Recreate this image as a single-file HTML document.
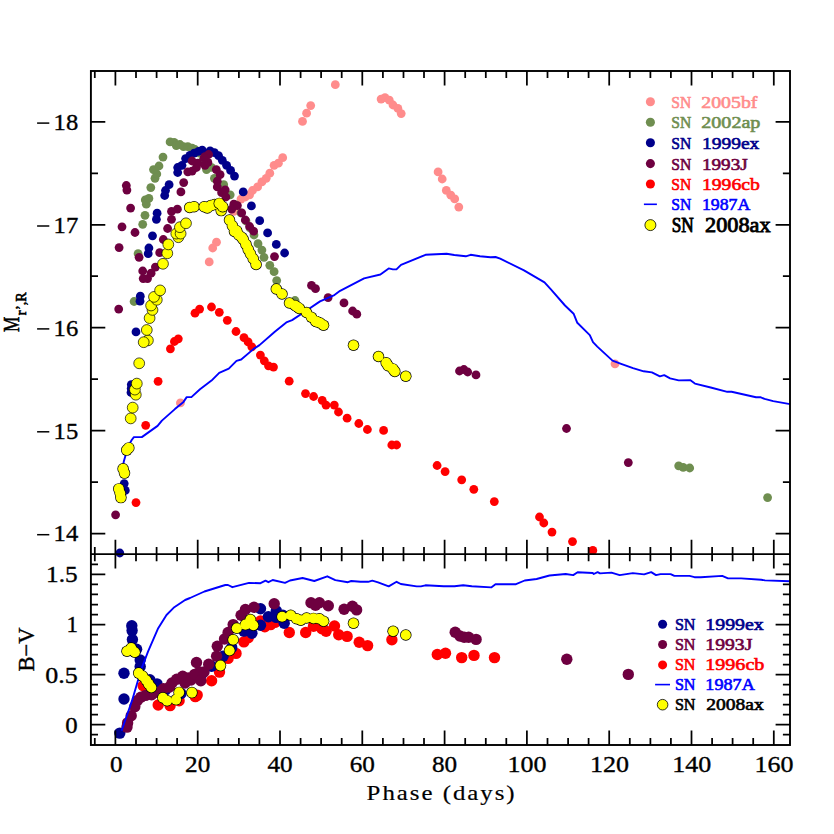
<!DOCTYPE html>
<html><head><meta charset="utf-8"><title>SN 2008ax light curves</title>
<style>html,body{margin:0;padding:0;background:#fff;overflow:hidden}svg{display:block}text{font-family:"Liberation Serif",serif}</style>
</head><body>
<svg width="834" height="834" viewBox="0 0 834 834">
<rect width="834" height="834" fill="#fff"/>
<g fill="#FF8C8C"><circle cx="180.4" cy="402.9" r="4.4"/><circle cx="209.2" cy="261.9" r="4.4"/><circle cx="212.7" cy="248.0" r="4.4"/><circle cx="216.5" cy="242.2" r="4.4"/><circle cx="233.8" cy="211.4" r="4.4"/><circle cx="241.0" cy="199.1" r="4.4"/><circle cx="245.3" cy="197.0" r="4.4"/><circle cx="249.6" cy="194.8" r="4.4"/><circle cx="252.5" cy="190.5" r="4.4"/><circle cx="257.6" cy="186.9" r="4.4"/><circle cx="261.9" cy="181.9" r="4.4"/><circle cx="266.2" cy="178.3" r="4.4"/><circle cx="269.8" cy="173.2" r="4.4"/><circle cx="274.1" cy="165.3" r="4.4"/><circle cx="278.4" cy="163.2" r="4.4"/><circle cx="282.7" cy="157.7" r="4.4"/><circle cx="302.5" cy="121.4" r="4.4"/><circle cx="306.6" cy="113.2" r="4.4"/><circle cx="310.7" cy="105.6" r="4.4"/><circle cx="335.3" cy="84.7" r="4.4"/><circle cx="381.1" cy="99.1" r="4.4"/><circle cx="385.0" cy="97.6" r="4.4"/><circle cx="389.3" cy="100.2" r="4.4"/><circle cx="393.0" cy="105.0" r="4.4"/><circle cx="397.9" cy="108.4" r="4.4"/><circle cx="401.2" cy="113.6" r="4.4"/><circle cx="438.1" cy="171.9" r="4.4"/><circle cx="442.2" cy="179.0" r="4.4"/><circle cx="446.3" cy="190.4" r="4.4"/><circle cx="450.8" cy="195.2" r="4.4"/><circle cx="454.7" cy="198.9" r="4.4"/><circle cx="458.8" cy="207.1" r="4.4"/><circle cx="615.0" cy="363.8" r="4.4"/></g>
<g fill="#6F8E50"><circle cx="134.1" cy="301.5" r="4.4"/><circle cx="138.1" cy="253.7" r="4.4"/><circle cx="142.7" cy="224.3" r="4.4"/><circle cx="145.0" cy="215.3" r="4.4"/><circle cx="146.3" cy="204.2" r="4.4"/><circle cx="145.3" cy="199.9" r="4.4"/><circle cx="148.9" cy="198.4" r="4.4"/><circle cx="150.8" cy="187.6" r="4.4"/><circle cx="155.0" cy="178.3" r="4.4"/><circle cx="156.8" cy="174.0" r="4.4"/><circle cx="153.5" cy="169.6" r="4.4"/><circle cx="159.0" cy="166.0" r="4.4"/><circle cx="163.0" cy="157.1" r="4.4"/><circle cx="170.1" cy="141.9" r="4.4"/><circle cx="174.1" cy="142.3" r="4.4"/><circle cx="176.3" cy="145.6" r="4.4"/><circle cx="179.9" cy="144.5" r="4.4"/><circle cx="183.5" cy="146.6" r="4.4"/><circle cx="187.8" cy="146.6" r="4.4"/><circle cx="192.1" cy="148.1" r="4.4"/><circle cx="195.0" cy="149.5" r="4.4"/><circle cx="199.0" cy="153.0" r="4.4"/><circle cx="203.0" cy="160.0" r="4.4"/><circle cx="206.5" cy="169.6" r="4.4"/><circle cx="211.3" cy="167.3" r="4.4"/><circle cx="214.4" cy="178.3" r="4.4"/><circle cx="223.7" cy="184.7" r="4.4"/><circle cx="230.2" cy="194.8" r="4.4"/><circle cx="236.0" cy="205.0" r="4.4"/><circle cx="241.0" cy="213.0" r="4.4"/><circle cx="246.0" cy="221.0" r="4.4"/><circle cx="250.0" cy="228.0" r="4.4"/><circle cx="254.0" cy="235.0" r="4.4"/><circle cx="258.0" cy="243.7" r="4.4"/><circle cx="261.9" cy="250.1" r="4.4"/><circle cx="264.0" cy="257.3" r="4.4"/><circle cx="269.8" cy="265.3" r="4.4"/><circle cx="274.1" cy="271.7" r="4.4"/><circle cx="276.7" cy="280.6" r="4.4"/><circle cx="295.0" cy="300.5" r="4.4"/><circle cx="678.7" cy="465.8" r="4.4"/><circle cx="683.2" cy="467.3" r="4.4"/><circle cx="689.7" cy="468.0" r="4.4"/><circle cx="767.6" cy="497.6" r="4.4"/></g>
<g fill="#00008B"><circle cx="119.8" cy="553.0" r="4.4"/><circle cx="124.2" cy="483.6" r="4.4"/><circle cx="125.3" cy="490.4" r="4.4"/><circle cx="131.3" cy="384.6" r="4.4"/><circle cx="131.2" cy="388.5" r="4.4"/><circle cx="131.0" cy="392.5" r="4.4"/><circle cx="136.0" cy="331.9" r="4.4"/><circle cx="140.3" cy="296.2" r="4.4"/><circle cx="140.0" cy="301.2" r="4.4"/><circle cx="148.9" cy="248.0" r="4.4"/><circle cx="148.2" cy="253.7" r="4.4"/><circle cx="152.5" cy="235.8" r="4.4"/><circle cx="156.4" cy="219.3" r="4.4"/><circle cx="157.1" cy="213.2" r="4.4"/><circle cx="164.7" cy="195.5" r="4.4"/><circle cx="165.5" cy="190.5" r="4.4"/><circle cx="169.1" cy="184.7" r="4.4"/><circle cx="177.7" cy="172.5" r="4.4"/><circle cx="177.7" cy="167.5" r="4.4"/><circle cx="182.0" cy="165.3" r="4.4"/><circle cx="185.6" cy="158.6" r="4.4"/><circle cx="189.9" cy="155.3" r="4.4"/><circle cx="194.2" cy="153.1" r="4.4"/><circle cx="198.6" cy="151.4" r="4.4"/><circle cx="202.2" cy="150.2" r="4.4"/><circle cx="210.1" cy="150.9" r="4.4"/><circle cx="214.4" cy="152.6" r="4.4"/><circle cx="218.5" cy="155.6" r="4.4"/><circle cx="222.3" cy="160.3" r="4.4"/><circle cx="226.6" cy="165.3" r="4.4"/><circle cx="230.6" cy="170.4" r="4.4"/><circle cx="234.5" cy="176.1" r="4.4"/><circle cx="243.2" cy="191.9" r="4.4"/><circle cx="251.4" cy="205.9" r="4.4"/><circle cx="259.7" cy="220.7" r="4.4"/><circle cx="267.6" cy="232.9" r="4.4"/><circle cx="276.3" cy="244.4" r="4.4"/><circle cx="284.6" cy="253.0" r="4.4"/></g>
<g fill="#6E0040"><circle cx="115.6" cy="514.8" r="4.4"/><circle cx="118.7" cy="309.1" r="4.4"/><circle cx="119.1" cy="247.6" r="4.4"/><circle cx="122.0" cy="226.8" r="4.4"/><circle cx="126.3" cy="185.5" r="4.4"/><circle cx="126.9" cy="190.1" r="4.4"/><circle cx="130.6" cy="208.1" r="4.4"/><circle cx="135.0" cy="232.5" r="4.4"/><circle cx="139.1" cy="257.3" r="4.4"/><circle cx="142.7" cy="271.0" r="4.4"/><circle cx="143.2" cy="278.6" r="4.4"/><circle cx="147.5" cy="278.6" r="4.4"/><circle cx="151.1" cy="273.2" r="4.4"/><circle cx="155.4" cy="267.1" r="4.4"/><circle cx="159.7" cy="252.7" r="4.4"/><circle cx="163.3" cy="239.5" r="4.4"/><circle cx="167.6" cy="228.5" r="4.4"/><circle cx="171.5" cy="219.3" r="4.4"/><circle cx="171.5" cy="211.4" r="4.4"/><circle cx="177.4" cy="209.2" r="4.4"/><circle cx="180.9" cy="191.9" r="4.4"/><circle cx="183.7" cy="182.6" r="4.4"/><circle cx="187.8" cy="171.8" r="4.4"/><circle cx="192.1" cy="171.1" r="4.4"/><circle cx="196.4" cy="167.5" r="4.4"/><circle cx="197.8" cy="163.2" r="4.4"/><circle cx="192.1" cy="161.0" r="4.4"/><circle cx="205.0" cy="156.7" r="4.4"/><circle cx="208.6" cy="154.5" r="4.4"/><circle cx="207.9" cy="162.4" r="4.4"/><circle cx="205.0" cy="165.3" r="4.4"/><circle cx="204.0" cy="158.0" r="4.4"/><circle cx="216.3" cy="169.6" r="4.4"/><circle cx="220.1" cy="174.7" r="4.4"/><circle cx="217.3" cy="181.2" r="4.4"/><circle cx="217.3" cy="186.9" r="4.4"/><circle cx="221.6" cy="192.7" r="4.4"/><circle cx="225.2" cy="189.8" r="4.4"/><circle cx="225.9" cy="197.0" r="4.4"/><circle cx="233.8" cy="204.2" r="4.4"/><circle cx="237.4" cy="205.6" r="4.4"/><circle cx="231.7" cy="209.2" r="4.4"/><circle cx="241.7" cy="212.8" r="4.4"/><circle cx="245.3" cy="220.0" r="4.4"/><circle cx="249.6" cy="226.5" r="4.4"/><circle cx="253.6" cy="231.2" r="4.4"/><circle cx="274.5" cy="256.6" r="4.4"/><circle cx="311.5" cy="285.4" r="4.4"/><circle cx="315.5" cy="288.7" r="4.4"/><circle cx="328.1" cy="297.6" r="4.4"/><circle cx="344.0" cy="302.9" r="4.4"/><circle cx="352.6" cy="311.0" r="4.4"/><circle cx="356.8" cy="314.2" r="4.4"/><circle cx="459.5" cy="371.0" r="4.4"/><circle cx="463.9" cy="369.5" r="4.4"/><circle cx="467.7" cy="372.0" r="4.4"/><circle cx="476.0" cy="374.9" r="4.4"/><circle cx="566.5" cy="428.5" r="4.4"/><circle cx="628.3" cy="462.6" r="4.4"/></g>
<g fill="#FF0000"><circle cx="136.0" cy="502.6" r="4.4"/><circle cx="145.7" cy="425.3" r="4.4"/><circle cx="158.1" cy="381.3" r="4.4"/><circle cx="170.4" cy="348.8" r="4.4"/><circle cx="174.4" cy="341.5" r="4.4"/><circle cx="178.3" cy="338.8" r="4.4"/><circle cx="195.0" cy="313.2" r="4.4"/><circle cx="199.6" cy="309.1" r="4.4"/><circle cx="211.5" cy="307.0" r="4.4"/><circle cx="219.3" cy="312.3" r="4.4"/><circle cx="227.3" cy="320.3" r="4.4"/><circle cx="236.0" cy="331.5" r="4.4"/><circle cx="244.0" cy="337.6" r="4.4"/><circle cx="248.1" cy="341.9" r="4.4"/><circle cx="251.8" cy="346.8" r="4.4"/><circle cx="260.4" cy="355.1" r="4.4"/><circle cx="264.3" cy="360.8" r="4.4"/><circle cx="268.5" cy="365.8" r="4.4"/><circle cx="273.5" cy="367.1" r="4.4"/><circle cx="289.2" cy="381.2" r="4.4"/><circle cx="305.5" cy="393.6" r="4.4"/><circle cx="313.6" cy="396.5" r="4.4"/><circle cx="322.2" cy="400.3" r="4.4"/><circle cx="326.0" cy="405.1" r="4.4"/><circle cx="334.3" cy="405.1" r="4.4"/><circle cx="338.5" cy="412.0" r="4.4"/><circle cx="347.1" cy="418.2" r="4.4"/><circle cx="358.8" cy="423.5" r="4.4"/><circle cx="367.4" cy="429.5" r="4.4"/><circle cx="383.6" cy="430.4" r="4.4"/><circle cx="391.8" cy="445.0" r="4.4"/><circle cx="396.6" cy="445.0" r="4.4"/><circle cx="437.1" cy="465.5" r="4.4"/><circle cx="445.1" cy="471.6" r="4.4"/><circle cx="461.7" cy="479.8" r="4.4"/><circle cx="473.8" cy="489.3" r="4.4"/><circle cx="494.3" cy="501.6" r="4.4"/><circle cx="539.5" cy="517.0" r="4.4"/><circle cx="543.8" cy="523.0" r="4.4"/><circle cx="552.0" cy="532.1" r="4.4"/><circle cx="572.5" cy="541.6" r="4.4"/><circle cx="592.8" cy="550.4" r="4.4"/></g>
<polyline fill="none" stroke="#0000FF" stroke-width="1.9" stroke-linejoin="round" points="122.0,470.0 123.8,461.6 128.1,446.5 131.7,440.0 133.9,437.1 141.8,437.1 157.6,425.9 161.9,420.6 174.9,409.1 183.5,401.9 186.7,397.1 191.4,397.1 200.0,389.2 211.5,380.6 219.2,372.9 228.8,368.7 236.5,360.8 241.2,359.5 253.7,348.9 259.5,345.1 274.8,331.7 286.3,322.4 292.1,320.1 303.6,312.5 320.0,301.4 334.4,295.1 340.1,290.8 364.1,278.4 380.4,274.5 388.7,268.4 392.9,269.4 396.7,269.2 401.0,264.9 425.5,254.8 446.6,253.8 454.3,255.0 465.8,256.3 470.6,254.8 480.0,256.3 490.5,257.2 495.5,257.0 500.2,258.7 524.0,270.4 544.5,282.4 550.9,289.4 565.0,305.5 573.6,313.7 577.3,322.8 589.8,335.1 593.0,342.2 597.3,346.6 612.5,360.6 621.1,363.8 633.0,368.1 643.7,371.3 651.9,372.4 659.9,376.3 664.2,375.2 670.1,378.4 678.7,380.4 690.1,380.1 694.9,383.6 710.7,387.5 727.3,391.8 731.6,391.8 756.0,397.2 760.3,397.2 764.6,398.9 773.2,401.1 790.0,404.1"/>
<g fill="#000"><circle cx="118.8" cy="488.9" r="5.75"/><circle cx="120.2" cy="493.2" r="5.75"/><circle cx="120.9" cy="497.6" r="5.75"/><circle cx="123.1" cy="468.8" r="5.75"/><circle cx="124.5" cy="473.1" r="5.75"/><circle cx="126.7" cy="450.1" r="5.75"/><circle cx="128.8" cy="447.9" r="5.75"/><circle cx="189.7" cy="207.5" r="5.75"/><circle cx="194.1" cy="206.7" r="5.75"/><circle cx="229.5" cy="220.0" r="5.75"/><circle cx="232.4" cy="225.8" r="5.75"/><circle cx="234.5" cy="231.4" r="5.75"/><circle cx="236.7" cy="230.8" r="5.75"/><circle cx="238.8" cy="235.0" r="5.75"/><circle cx="241.7" cy="237.3" r="5.75"/><circle cx="243.2" cy="239.4" r="5.75"/><circle cx="246.0" cy="244.4" r="5.75"/><circle cx="248.2" cy="249.4" r="5.75"/><circle cx="250.4" cy="253.7" r="5.75"/><circle cx="253.2" cy="258.8" r="5.75"/><circle cx="256.1" cy="264.5" r="5.75"/><circle cx="276.3" cy="289.0" r="5.75"/><circle cx="282.0" cy="294.0" r="5.75"/><circle cx="289.5" cy="303.0" r="5.75"/><circle cx="295.0" cy="305.5" r="5.75"/><circle cx="297.0" cy="306.7" r="5.75"/><circle cx="299.3" cy="308.4" r="5.75"/><circle cx="306.5" cy="312.5" r="5.75"/><circle cx="311.4" cy="317.2" r="5.75"/><circle cx="315.8" cy="321.4" r="5.75"/><circle cx="317.0" cy="321.7" r="5.75"/><circle cx="320.1" cy="323.0" r="5.75"/><circle cx="323.5" cy="325.2" r="5.75"/><circle cx="353.5" cy="345.3" r="5.75"/><circle cx="378.5" cy="356.5" r="5.75"/><circle cx="386.2" cy="362.8" r="5.75"/><circle cx="388.1" cy="365.7" r="5.75"/><circle cx="392.9" cy="368.9" r="5.75"/><circle cx="394.8" cy="371.4" r="5.75"/><circle cx="405.8" cy="376.2" r="5.75"/></g>
<g fill="#FFFF00"><circle cx="118.8" cy="488.9" r="5.05"/><circle cx="120.2" cy="493.2" r="5.05"/><circle cx="120.9" cy="497.6" r="5.05"/><circle cx="123.1" cy="468.8" r="5.05"/><circle cx="124.5" cy="473.1" r="5.05"/><circle cx="126.7" cy="450.1" r="5.05"/><circle cx="128.8" cy="447.9" r="5.05"/><circle cx="189.7" cy="207.5" r="5.05"/><circle cx="194.1" cy="206.7" r="5.05"/><circle cx="229.5" cy="220.0" r="5.05"/><circle cx="232.4" cy="225.8" r="5.05"/><circle cx="234.5" cy="231.4" r="5.05"/><circle cx="236.7" cy="230.8" r="5.05"/><circle cx="238.8" cy="235.0" r="5.05"/><circle cx="241.7" cy="237.3" r="5.05"/><circle cx="243.2" cy="239.4" r="5.05"/><circle cx="246.0" cy="244.4" r="5.05"/><circle cx="248.2" cy="249.4" r="5.05"/><circle cx="250.4" cy="253.7" r="5.05"/><circle cx="253.2" cy="258.8" r="5.05"/><circle cx="256.1" cy="264.5" r="5.05"/><circle cx="276.3" cy="289.0" r="5.05"/><circle cx="282.0" cy="294.0" r="5.05"/><circle cx="289.5" cy="303.0" r="5.05"/><circle cx="295.0" cy="305.5" r="5.05"/><circle cx="297.0" cy="306.7" r="5.05"/><circle cx="299.3" cy="308.4" r="5.05"/><circle cx="306.5" cy="312.5" r="5.05"/><circle cx="311.4" cy="317.2" r="5.05"/><circle cx="315.8" cy="321.4" r="5.05"/><circle cx="317.0" cy="321.7" r="5.05"/><circle cx="320.1" cy="323.0" r="5.05"/><circle cx="323.5" cy="325.2" r="5.05"/><circle cx="353.5" cy="345.3" r="5.05"/><circle cx="378.5" cy="356.5" r="5.05"/><circle cx="386.2" cy="362.8" r="5.05"/><circle cx="388.1" cy="365.7" r="5.05"/><circle cx="392.9" cy="368.9" r="5.05"/><circle cx="394.8" cy="371.4" r="5.05"/><circle cx="405.8" cy="376.2" r="5.05"/></g>
<g fill="#FFFF00" stroke="#000" stroke-width="0.7"><circle cx="130.7" cy="418.4" r="5.4"/><circle cx="132.7" cy="407.6" r="5.4"/><circle cx="135.8" cy="394.7" r="5.4"/><circle cx="134.9" cy="389.6" r="5.4"/><circle cx="136.8" cy="383.6" r="5.4"/><circle cx="139.2" cy="363.3" r="5.4"/><circle cx="147.9" cy="340.4" r="5.4"/><circle cx="143.7" cy="342.2" r="5.4"/><circle cx="146.8" cy="330.0" r="5.4"/><circle cx="149.6" cy="318.1" r="5.4"/><circle cx="152.5" cy="309.9" r="5.4"/><circle cx="151.1" cy="305.5" r="5.4"/><circle cx="156.8" cy="299.8" r="5.4"/><circle cx="154.0" cy="296.9" r="5.4"/><circle cx="160.1" cy="290.4" r="5.4"/><circle cx="163.0" cy="263.8" r="5.4"/><circle cx="167.3" cy="253.3" r="5.4"/><circle cx="168.3" cy="244.4" r="5.4"/><circle cx="178.4" cy="237.2" r="5.4"/><circle cx="176.3" cy="233.6" r="5.4"/><circle cx="180.6" cy="233.6" r="5.4"/><circle cx="179.9" cy="227.2" r="5.4"/><circle cx="186.0" cy="223.3" r="5.4"/></g>
<g fill="#000"><circle cx="204.2" cy="206.8" r="5.75"/><circle cx="207.3" cy="207.9" r="5.75"/><circle cx="210.8" cy="205.6" r="5.75"/><circle cx="214.5" cy="204.5" r="5.75"/><circle cx="221.2" cy="210.6" r="5.75"/></g>
<g fill="#FFFF00"><circle cx="204.2" cy="206.8" r="5.05"/><circle cx="207.3" cy="207.9" r="5.05"/><circle cx="210.8" cy="205.6" r="5.05"/><circle cx="214.5" cy="204.5" r="5.05"/><circle cx="221.2" cy="210.6" r="5.05"/></g>
<g fill="#000"><circle cx="219.3" cy="203.4" r="5.75"/><circle cx="222.7" cy="206.8" r="5.75"/></g>
<g fill="#FFFF00"><circle cx="219.3" cy="203.4" r="5.05"/><circle cx="222.7" cy="206.8" r="5.05"/></g>
<g fill="#FF0000"><circle cx="143.2" cy="685.8" r="5.7"/><circle cx="158.2" cy="705.0" r="5.7"/><circle cx="170.1" cy="705.6" r="5.7"/><circle cx="179.1" cy="700.8" r="5.7"/><circle cx="195.3" cy="696.6" r="5.7"/><circle cx="197.2" cy="695.1" r="5.7"/><circle cx="211.6" cy="680.7" r="5.7"/><circle cx="219.5" cy="672.1" r="5.7"/><circle cx="228.1" cy="658.4" r="5.7"/><circle cx="236.0" cy="653.4" r="5.7"/><circle cx="243.9" cy="641.9" r="5.7"/><circle cx="248.3" cy="637.6" r="5.7"/><circle cx="260.5" cy="621.0" r="5.7"/><circle cx="264.8" cy="626.8" r="5.7"/><circle cx="270.6" cy="624.6" r="5.7"/><circle cx="274.9" cy="622.4" r="5.7"/><circle cx="289.3" cy="632.5" r="5.7"/><circle cx="305.7" cy="632.5" r="5.7"/><circle cx="313.5" cy="626.3" r="5.7"/><circle cx="321.9" cy="628.8" r="5.7"/><circle cx="326.1" cy="631.3" r="5.7"/><circle cx="334.5" cy="626.0" r="5.7"/><circle cx="338.7" cy="634.7" r="5.7"/><circle cx="347.1" cy="636.4" r="5.7"/><circle cx="359.2" cy="642.3" r="5.7"/><circle cx="367.6" cy="645.6" r="5.7"/><circle cx="391.9" cy="639.7" r="5.7"/><circle cx="437.3" cy="654.5" r="5.7"/><circle cx="445.5" cy="653.2" r="5.7"/><circle cx="461.7" cy="657.6" r="5.7"/><circle cx="474.0" cy="655.4" r="5.7"/><circle cx="494.5" cy="657.6" r="5.7"/></g>
<g fill="#00008B"><circle cx="119.8" cy="733.1" r="5.7"/><circle cx="124.0" cy="699.0" r="5.7"/><circle cx="124.0" cy="673.3" r="5.7"/><circle cx="131.8" cy="625.8" r="5.7"/><circle cx="132.1" cy="630.6" r="5.7"/><circle cx="132.4" cy="639.6" r="5.7"/><circle cx="136.6" cy="649.2" r="5.7"/><circle cx="140.2" cy="660.0" r="5.7"/><circle cx="140.2" cy="666.5" r="5.7"/><circle cx="149.8" cy="679.7" r="5.7"/><circle cx="157.0" cy="683.9" r="5.7"/><circle cx="165.5" cy="690.0" r="5.7"/><circle cx="181.0" cy="693.5" r="5.7"/><circle cx="202.2" cy="673.5" r="5.7"/><circle cx="211.6" cy="666.3" r="5.7"/><circle cx="223.1" cy="656.3" r="5.7"/><circle cx="231.7" cy="647.6" r="5.7"/><circle cx="243.9" cy="631.1" r="5.7"/><circle cx="251.9" cy="633.2" r="5.7"/><circle cx="260.5" cy="625.3" r="5.7"/><circle cx="260.5" cy="608.8" r="5.7"/><circle cx="268.4" cy="616.7" r="5.7"/><circle cx="276.3" cy="610.9" r="5.7"/><circle cx="276.3" cy="617.4" r="5.7"/><circle cx="284.2" cy="623.2" r="5.7"/><circle cx="282.8" cy="615.3" r="5.7"/></g>
<g fill="#6E0040"><circle cx="127.0" cy="727.1" r="5.7"/><circle cx="127.6" cy="722.9" r="5.7"/><circle cx="131.2" cy="715.8" r="5.7"/><circle cx="134.8" cy="706.8" r="5.7"/><circle cx="137.2" cy="700.8" r="5.7"/><circle cx="140.8" cy="697.2" r="5.7"/><circle cx="145.6" cy="695.4" r="5.7"/><circle cx="151.6" cy="694.8" r="5.7"/><circle cx="157.6" cy="692.4" r="5.7"/><circle cx="163.5" cy="688.8" r="5.7"/><circle cx="169.5" cy="687.0" r="5.7"/><circle cx="172.0" cy="683.0" r="5.7"/><circle cx="176.7" cy="679.2" r="5.7"/><circle cx="182.7" cy="676.2" r="5.7"/><circle cx="185.0" cy="683.0" r="5.7"/><circle cx="188.7" cy="678.0" r="5.7"/><circle cx="191.0" cy="680.0" r="5.7"/><circle cx="194.7" cy="674.4" r="5.7"/><circle cx="199.5" cy="672.0" r="5.7"/><circle cx="196.5" cy="662.5" r="5.7"/><circle cx="195.8" cy="674.2" r="5.7"/><circle cx="200.8" cy="680.7" r="5.7"/><circle cx="204.0" cy="672.0" r="5.7"/><circle cx="208.7" cy="664.2" r="5.7"/><circle cx="216.6" cy="656.3" r="5.7"/><circle cx="217.3" cy="646.2" r="5.7"/><circle cx="224.5" cy="639.0" r="5.7"/><circle cx="228.1" cy="632.5" r="5.7"/><circle cx="233.2" cy="624.6" r="5.7"/><circle cx="241.1" cy="615.3" r="5.7"/><circle cx="245.4" cy="609.5" r="5.7"/><circle cx="254.0" cy="607.3" r="5.7"/><circle cx="274.2" cy="603.7" r="5.7"/><circle cx="311.0" cy="602.8" r="5.7"/><circle cx="315.5" cy="605.3" r="5.7"/><circle cx="319.4" cy="602.8" r="5.7"/><circle cx="328.3" cy="605.7" r="5.7"/><circle cx="344.1" cy="609.2" r="5.7"/><circle cx="352.4" cy="606.2" r="5.7"/><circle cx="356.6" cy="609.9" r="5.7"/><circle cx="455.2" cy="632.3" r="5.7"/><circle cx="459.9" cy="636.0" r="5.7"/><circle cx="464.2" cy="637.3" r="5.7"/><circle cx="468.6" cy="637.3" r="5.7"/><circle cx="476.1" cy="639.4" r="5.7"/><circle cx="566.8" cy="659.3" r="5.7"/><circle cx="628.3" cy="674.4" r="5.7"/></g>
<polyline fill="none" stroke="#0000FF" stroke-width="1.9" stroke-linejoin="round" points="121.6,730.7 126.0,718.0 132.4,699.6 140.8,670.7 148.0,651.6 158.2,628.2 166.5,615.0 174.3,607.2 185.1,600.0 190.0,598.0 204.4,591.5 225.3,585.0 228.0,585.0 232.4,587.2 249.0,582.9 260.5,583.2 265.5,580.7 268.4,582.2 272.7,580.0 285.0,582.9 290.0,580.5 302.6,578.0 314.3,581.0 327.3,576.3 335.3,580.1 347.9,582.2 351.3,581.0 360.5,581.8 368.1,581.8 372.3,580.6 378.1,582.3 388.7,586.4 396.6,581.8 400.8,584.0 416.7,586.4 420.9,586.4 425.4,585.3 443.7,586.3 454.5,586.3 463.2,585.3 471.8,586.3 491.2,587.4 495.5,584.2 516.0,584.2 524.7,580.5 536.6,579.0 549.5,575.5 565.7,574.0 573.2,575.1 577.6,572.3 592.7,573.0 593.8,574.0 597.6,572.1 600.0,573.4 611.4,572.6 619.7,575.1 632.8,573.1 644.1,574.4 651.2,572.1 656.0,575.1 660.5,574.1 670.6,574.1 674.4,575.9 689.5,575.9 694.5,577.2 700.8,577.2 722.2,575.9 728.0,578.4 741.1,578.4 761.2,579.7 765.0,580.4 790.0,581.2"/>
<g fill="#000"><circle cx="131.2" cy="648.0" r="5.75"/><circle cx="127.0" cy="651.3" r="5.75"/><circle cx="134.8" cy="652.2" r="5.75"/><circle cx="138.7" cy="673.1" r="5.75"/><circle cx="142.6" cy="676.1" r="5.75"/><circle cx="146.2" cy="680.3" r="5.75"/><circle cx="148.6" cy="683.9" r="5.75"/><circle cx="151.3" cy="687.5" r="5.75"/><circle cx="162.9" cy="697.8" r="5.75"/><circle cx="167.1" cy="700.8" r="5.75"/><circle cx="176.1" cy="699.6" r="5.75"/><circle cx="179.1" cy="692.4" r="5.75"/><circle cx="191.9" cy="692.6" r="5.75"/><circle cx="220.5" cy="665.6" r="5.75"/><circle cx="229.6" cy="650.5" r="5.75"/><circle cx="233.2" cy="639.7" r="5.75"/><circle cx="236.8" cy="628.2" r="5.75"/><circle cx="245.4" cy="624.6" r="5.75"/><circle cx="250.4" cy="619.6" r="5.75"/><circle cx="253.3" cy="625.3" r="5.75"/><circle cx="282.1" cy="616.7" r="5.75"/><circle cx="290.7" cy="615.3" r="5.75"/><circle cx="296.5" cy="618.8" r="5.75"/><circle cx="300.8" cy="620.3" r="5.75"/><circle cx="306.6" cy="618.0" r="5.75"/><circle cx="313.5" cy="618.4" r="5.75"/><circle cx="319.4" cy="618.8" r="5.75"/><circle cx="323.6" cy="621.3" r="5.75"/><circle cx="353.5" cy="623.3" r="5.75"/><circle cx="393.1" cy="631.3" r="5.75"/><circle cx="405.8" cy="635.0" r="5.75"/></g>
<g fill="#FFFF00"><circle cx="131.2" cy="648.0" r="5.05"/><circle cx="127.0" cy="651.3" r="5.05"/><circle cx="134.8" cy="652.2" r="5.05"/><circle cx="138.7" cy="673.1" r="5.05"/><circle cx="142.6" cy="676.1" r="5.05"/><circle cx="146.2" cy="680.3" r="5.05"/><circle cx="148.6" cy="683.9" r="5.05"/><circle cx="151.3" cy="687.5" r="5.05"/><circle cx="162.9" cy="697.8" r="5.05"/><circle cx="167.1" cy="700.8" r="5.05"/><circle cx="176.1" cy="699.6" r="5.05"/><circle cx="179.1" cy="692.4" r="5.05"/><circle cx="191.9" cy="692.6" r="5.05"/><circle cx="220.5" cy="665.6" r="5.05"/><circle cx="229.6" cy="650.5" r="5.05"/><circle cx="233.2" cy="639.7" r="5.05"/><circle cx="236.8" cy="628.2" r="5.05"/><circle cx="245.4" cy="624.6" r="5.05"/><circle cx="250.4" cy="619.6" r="5.05"/><circle cx="253.3" cy="625.3" r="5.05"/><circle cx="282.1" cy="616.7" r="5.05"/><circle cx="290.7" cy="615.3" r="5.05"/><circle cx="296.5" cy="618.8" r="5.05"/><circle cx="300.8" cy="620.3" r="5.05"/><circle cx="306.6" cy="618.0" r="5.05"/><circle cx="313.5" cy="618.4" r="5.05"/><circle cx="319.4" cy="618.8" r="5.05"/><circle cx="323.6" cy="621.3" r="5.05"/><circle cx="353.5" cy="623.3" r="5.05"/><circle cx="393.1" cy="631.3" r="5.05"/><circle cx="405.8" cy="635.0" r="5.05"/></g>
<path d="M94.8 71.0L94.8 78.1M94.8 547.0L94.8 561.2M94.8 745.0L94.8 737.9M115.4 71.0L115.4 85.4M115.4 539.7L115.4 568.5M115.4 745.0L115.4 730.6M136.0 71.0L136.0 78.1M136.0 547.0L136.0 561.2M136.0 745.0L136.0 737.9M156.6 71.0L156.6 78.1M156.6 547.0L156.6 561.2M156.6 745.0L156.6 737.9M177.1 71.0L177.1 78.1M177.1 547.0L177.1 561.2M177.1 745.0L177.1 737.9M197.7 71.0L197.7 85.4M197.7 539.7L197.7 568.5M197.7 745.0L197.7 730.6M218.3 71.0L218.3 78.1M218.3 547.0L218.3 561.2M218.3 745.0L218.3 737.9M238.9 71.0L238.9 78.1M238.9 547.0L238.9 561.2M238.9 745.0L238.9 737.9M259.4 71.0L259.4 78.1M259.4 547.0L259.4 561.2M259.4 745.0L259.4 737.9M280.0 71.0L280.0 85.4M280.0 539.7L280.0 568.5M280.0 745.0L280.0 730.6M300.6 71.0L300.6 78.1M300.6 547.0L300.6 561.2M300.6 745.0L300.6 737.9M321.1 71.0L321.1 78.1M321.1 547.0L321.1 561.2M321.1 745.0L321.1 737.9M341.7 71.0L341.7 78.1M341.7 547.0L341.7 561.2M341.7 745.0L341.7 737.9M362.3 71.0L362.3 85.4M362.3 539.7L362.3 568.5M362.3 745.0L362.3 730.6M382.9 71.0L382.9 78.1M382.9 547.0L382.9 561.2M382.9 745.0L382.9 737.9M403.5 71.0L403.5 78.1M403.5 547.0L403.5 561.2M403.5 745.0L403.5 737.9M424.0 71.0L424.0 78.1M424.0 547.0L424.0 561.2M424.0 745.0L424.0 737.9M444.6 71.0L444.6 85.4M444.6 539.7L444.6 568.5M444.6 745.0L444.6 730.6M465.2 71.0L465.2 78.1M465.2 547.0L465.2 561.2M465.2 745.0L465.2 737.9M485.8 71.0L485.8 78.1M485.8 547.0L485.8 561.2M485.8 745.0L485.8 737.9M506.3 71.0L506.3 78.1M506.3 547.0L506.3 561.2M506.3 745.0L506.3 737.9M526.9 71.0L526.9 85.4M526.9 539.7L526.9 568.5M526.9 745.0L526.9 730.6M547.5 71.0L547.5 78.1M547.5 547.0L547.5 561.2M547.5 745.0L547.5 737.9M568.1 71.0L568.1 78.1M568.1 547.0L568.1 561.2M568.1 745.0L568.1 737.9M588.6 71.0L588.6 78.1M588.6 547.0L588.6 561.2M588.6 745.0L588.6 737.9M609.2 71.0L609.2 85.4M609.2 539.7L609.2 568.5M609.2 745.0L609.2 730.6M629.8 71.0L629.8 78.1M629.8 547.0L629.8 561.2M629.8 745.0L629.8 737.9M650.4 71.0L650.4 78.1M650.4 547.0L650.4 561.2M650.4 745.0L650.4 737.9M670.9 71.0L670.9 78.1M670.9 547.0L670.9 561.2M670.9 745.0L670.9 737.9M691.5 71.0L691.5 85.4M691.5 539.7L691.5 568.5M691.5 745.0L691.5 730.6M712.1 71.0L712.1 78.1M712.1 547.0L712.1 561.2M712.1 745.0L712.1 737.9M732.6 71.0L732.6 78.1M732.6 547.0L732.6 561.2M732.6 745.0L732.6 737.9M753.2 71.0L753.2 78.1M753.2 547.0L753.2 561.2M753.2 745.0L753.2 737.9M773.8 71.0L773.8 85.4M773.8 539.7L773.8 568.5M773.8 745.0L773.8 730.6M90.9 121.9L105.3 121.9M790.0 121.9L775.6 121.9M90.9 173.4L98.0 173.4M790.0 173.4L782.9 173.4M90.9 224.8L105.3 224.8M790.0 224.8L775.6 224.8M90.9 276.2L98.0 276.2M790.0 276.2L782.9 276.2M90.9 327.7L105.3 327.7M790.0 327.7L775.6 327.7M90.9 379.1L98.0 379.1M790.0 379.1L782.9 379.1M90.9 430.6L105.3 430.6M790.0 430.6L775.6 430.6M90.9 482.1L98.0 482.1M790.0 482.1L782.9 482.1M90.9 533.5L105.3 533.5M790.0 533.5L775.6 533.5M90.9 734.7L98.0 734.7M790.0 734.7L782.9 734.7M90.9 724.7L105.3 724.7M790.0 724.7L775.6 724.7M90.9 714.7L98.0 714.7M790.0 714.7L782.9 714.7M90.9 704.7L98.0 704.7M790.0 704.7L782.9 704.7M90.9 694.6L98.0 694.6M790.0 694.6L782.9 694.6M90.9 684.6L98.0 684.6M790.0 684.6L782.9 684.6M90.9 674.6L105.3 674.6M790.0 674.6L775.6 674.6M90.9 664.6L98.0 664.6M790.0 664.6L782.9 664.6M90.9 654.6L98.0 654.6M790.0 654.6L782.9 654.6M90.9 644.5L98.0 644.5M790.0 644.5L782.9 644.5M90.9 634.5L98.0 634.5M790.0 634.5L782.9 634.5M90.9 624.5L105.3 624.5M790.0 624.5L775.6 624.5M90.9 614.5L98.0 614.5M790.0 614.5L782.9 614.5M90.9 604.5L98.0 604.5M790.0 604.5L782.9 604.5M90.9 594.4L98.0 594.4M790.0 594.4L782.9 594.4M90.9 584.4L98.0 584.4M790.0 584.4L782.9 584.4M90.9 574.4L105.3 574.4M790.0 574.4L775.6 574.4M90.9 564.4L98.0 564.4M790.0 564.4L782.9 564.4" stroke="#000" stroke-width="1.75" fill="none"/>
<rect x="90.9" y="71.0" width="699.1" height="674.0" fill="none" stroke="#000" stroke-width="1.9"/>
<path d="M90.9 554.1H790.0" stroke="#000" stroke-width="1.9"/>
<text x="110.0" y="772.0" font-size="23.0" text-anchor="start" fill="#000" textLength="12.6" lengthAdjust="spacingAndGlyphs" stroke="#000" stroke-width="0.35">0</text>
<text x="185.1" y="772.0" font-size="23.0" text-anchor="start" fill="#000" textLength="25.2" lengthAdjust="spacingAndGlyphs" stroke="#000" stroke-width="0.35">20</text>
<text x="267.4" y="772.0" font-size="23.0" text-anchor="start" fill="#000" textLength="25.2" lengthAdjust="spacingAndGlyphs" stroke="#000" stroke-width="0.35">40</text>
<text x="349.7" y="772.0" font-size="23.0" text-anchor="start" fill="#000" textLength="25.2" lengthAdjust="spacingAndGlyphs" stroke="#000" stroke-width="0.35">60</text>
<text x="432.0" y="772.0" font-size="23.0" text-anchor="start" fill="#000" textLength="25.2" lengthAdjust="spacingAndGlyphs" stroke="#000" stroke-width="0.35">80</text>
<text x="507.6" y="772.0" font-size="23.0" text-anchor="start" fill="#000" textLength="39.0" lengthAdjust="spacingAndGlyphs" stroke="#000" stroke-width="0.35">100</text>
<text x="589.9" y="772.0" font-size="23.0" text-anchor="start" fill="#000" textLength="39.0" lengthAdjust="spacingAndGlyphs" stroke="#000" stroke-width="0.35">120</text>
<text x="672.2" y="772.0" font-size="23.0" text-anchor="start" fill="#000" textLength="39.0" lengthAdjust="spacingAndGlyphs" stroke="#000" stroke-width="0.35">140</text>
<text x="754.5" y="772.0" font-size="23.0" text-anchor="start" fill="#000" textLength="39.0" lengthAdjust="spacingAndGlyphs" stroke="#000" stroke-width="0.35">160</text>
<text x="53.6" y="129.8" font-size="23.0" text-anchor="start" fill="#000" textLength="24.6" lengthAdjust="spacingAndGlyphs" stroke="#000" stroke-width="0.35">18</text>
<path d="M37.1 123.1H49.3" stroke="#000" stroke-width="1.5"/>
<text x="53.6" y="232.7" font-size="23.0" text-anchor="start" fill="#000" textLength="24.6" lengthAdjust="spacingAndGlyphs" stroke="#000" stroke-width="0.35">17</text>
<path d="M37.1 226.0H49.3" stroke="#000" stroke-width="1.5"/>
<text x="53.6" y="335.6" font-size="23.0" text-anchor="start" fill="#000" textLength="24.6" lengthAdjust="spacingAndGlyphs" stroke="#000" stroke-width="0.35">16</text>
<path d="M37.1 328.9H49.3" stroke="#000" stroke-width="1.5"/>
<text x="53.6" y="438.5" font-size="23.0" text-anchor="start" fill="#000" textLength="24.6" lengthAdjust="spacingAndGlyphs" stroke="#000" stroke-width="0.35">15</text>
<path d="M37.1 431.8H49.3" stroke="#000" stroke-width="1.5"/>
<text x="53.6" y="541.4" font-size="23.0" text-anchor="start" fill="#000" textLength="24.6" lengthAdjust="spacingAndGlyphs" stroke="#000" stroke-width="0.35">14</text>
<path d="M37.1 534.7H49.3" stroke="#000" stroke-width="1.5"/>
<text x="46.0" y="582.3" font-size="23.0" text-anchor="start" fill="#000" textLength="31.6" lengthAdjust="spacingAndGlyphs" stroke="#000" stroke-width="0.35">1.5</text>
<text x="66.4" y="632.4" font-size="23.0" text-anchor="start" fill="#000" textLength="11.5" lengthAdjust="spacingAndGlyphs" stroke="#000" stroke-width="0.35">1</text>
<text x="45.2" y="682.5" font-size="23.0" text-anchor="start" fill="#000" textLength="32.5" lengthAdjust="spacingAndGlyphs" stroke="#000" stroke-width="0.35">0.5</text>
<text x="65.3" y="732.6" font-size="23.0" text-anchor="start" fill="#000" textLength="12.4" lengthAdjust="spacingAndGlyphs" stroke="#000" stroke-width="0.35">0</text>
<text transform="translate(366.6,800.1) scale(1.130,1)" font-size="22.0" fill="#000" textLength="131.0" lengthAdjust="spacing" stroke="#000" stroke-width="0.20">Phase (days)</text>
<g transform="translate(19.4,332) rotate(-90)" stroke="#000" stroke-width="0.6"><text x="0" y="0" font-size="24" textLength="15.2" lengthAdjust="spacingAndGlyphs">M</text><text x="16.7" y="6.5" font-size="15" textLength="23" lengthAdjust="spacingAndGlyphs">r’,R</text></g>
<g transform="translate(33.6,671.5) rotate(-90)" stroke="#000" stroke-width="0.4"><text x="0" y="0" font-size="24" textLength="44" lengthAdjust="spacingAndGlyphs">B−V</text></g>
<circle cx="650.4" cy="101.8" r="4.55" fill="#FF8C8C"/>
<text x="671.2" y="107.8" font-size="17.0" text-anchor="start" fill="#FF8C8C" textLength="20.0" lengthAdjust="spacingAndGlyphs" stroke="#FF8C8C" stroke-width="0.60">SN</text>
<text x="701.3" y="107.9" font-size="17.0" text-anchor="start" fill="#FF8C8C" textLength="56.1" lengthAdjust="spacingAndGlyphs" stroke="#FF8C8C" stroke-width="0.60">2005bf</text>
<circle cx="650.4" cy="122.2" r="4.55" fill="#6F8E50"/>
<text x="671.2" y="128.2" font-size="17.0" text-anchor="start" fill="#6F8E50" textLength="20.0" lengthAdjust="spacingAndGlyphs" stroke="#6F8E50" stroke-width="0.60">SN</text>
<text x="701.3" y="128.3" font-size="17.0" text-anchor="start" fill="#6F8E50" textLength="59.1" lengthAdjust="spacingAndGlyphs" stroke="#6F8E50" stroke-width="0.60">2002ap</text>
<circle cx="650.4" cy="142.8" r="4.55" fill="#00008B"/>
<text x="671.2" y="148.8" font-size="17.0" text-anchor="start" fill="#00008B" textLength="20.0" lengthAdjust="spacingAndGlyphs" stroke="#00008B" stroke-width="0.60">SN</text>
<text x="701.9" y="148.9" font-size="17.0" text-anchor="start" fill="#00008B" textLength="57.5" lengthAdjust="spacingAndGlyphs" stroke="#00008B" stroke-width="0.60">1999ex</text>
<circle cx="650.4" cy="163.6" r="4.55" fill="#6E0040"/>
<text x="671.2" y="169.6" font-size="17.0" text-anchor="start" fill="#6E0040" textLength="20.0" lengthAdjust="spacingAndGlyphs" stroke="#6E0040" stroke-width="0.60">SN</text>
<text x="701.9" y="169.7" font-size="17.0" text-anchor="start" fill="#6E0040" textLength="45.9" lengthAdjust="spacingAndGlyphs" stroke="#6E0040" stroke-width="0.60">1993J</text>
<circle cx="650.4" cy="184.0" r="4.55" fill="#FF0000"/>
<text x="671.2" y="190.0" font-size="17.0" text-anchor="start" fill="#FF0000" textLength="20.0" lengthAdjust="spacingAndGlyphs" stroke="#FF0000" stroke-width="0.60">SN</text>
<text x="701.9" y="190.1" font-size="17.0" text-anchor="start" fill="#FF0000" textLength="57.9" lengthAdjust="spacingAndGlyphs" stroke="#FF0000" stroke-width="0.60">1996cb</text>
<path d="M643.9 204.3H656.9" stroke="#0000FF" stroke-width="1.6"/>
<text x="671.2" y="210.3" font-size="17.0" text-anchor="start" fill="#0000FF" textLength="20.0" lengthAdjust="spacingAndGlyphs" stroke="#0000FF" stroke-width="0.60">SN</text>
<text x="701.9" y="210.4" font-size="17.0" text-anchor="start" fill="#0000FF" textLength="48.4" lengthAdjust="spacingAndGlyphs" stroke="#0000FF" stroke-width="0.60">1987A</text>
<circle cx="650.4" cy="225.1" r="5.5" fill="#FFFF00" stroke="#000" stroke-width="0.8"/>
<text x="671.8" y="231.9" font-size="20.0" text-anchor="start" fill="#000" textLength="22.0" lengthAdjust="spacingAndGlyphs" stroke="#000" stroke-width="0.90">SN</text>
<text x="705.0" y="231.9" font-size="20.0" text-anchor="start" fill="#000" textLength="65.6" lengthAdjust="spacingAndGlyphs" stroke="#000" stroke-width="0.80">2008ax</text>
<circle cx="662.6" cy="624.3" r="4.5" fill="#00008B"/>
<text x="674.9" y="629.8" font-size="16.5" text-anchor="start" fill="#00008B" textLength="20.6" lengthAdjust="spacingAndGlyphs" stroke="#00008B" stroke-width="0.60">SN</text>
<text x="705.3" y="629.8" font-size="16.5" text-anchor="start" fill="#00008B" textLength="58.5" lengthAdjust="spacingAndGlyphs" stroke="#00008B" stroke-width="0.60">1999ex</text>
<circle cx="662.6" cy="644.5" r="4.5" fill="#6E0040"/>
<text x="674.9" y="650.0" font-size="16.5" text-anchor="start" fill="#6E0040" textLength="20.6" lengthAdjust="spacingAndGlyphs" stroke="#6E0040" stroke-width="0.60">SN</text>
<text x="705.3" y="650.0" font-size="16.5" text-anchor="start" fill="#6E0040" textLength="47.0" lengthAdjust="spacingAndGlyphs" stroke="#6E0040" stroke-width="0.60">1993J</text>
<circle cx="662.6" cy="664.9" r="4.5" fill="#FF0000"/>
<text x="674.9" y="670.4" font-size="16.5" text-anchor="start" fill="#FF0000" textLength="20.6" lengthAdjust="spacingAndGlyphs" stroke="#FF0000" stroke-width="0.60">SN</text>
<text x="705.3" y="670.4" font-size="16.5" text-anchor="start" fill="#FF0000" textLength="59.0" lengthAdjust="spacingAndGlyphs" stroke="#FF0000" stroke-width="0.60">1996cb</text>
<path d="M655.1 684.6H670.0" stroke="#0000FF" stroke-width="1.6"/>
<text x="674.9" y="690.1" font-size="16.5" text-anchor="start" fill="#0000FF" textLength="20.6" lengthAdjust="spacingAndGlyphs" stroke="#0000FF" stroke-width="0.60">SN</text>
<text x="705.3" y="690.1" font-size="16.5" text-anchor="start" fill="#0000FF" textLength="49.5" lengthAdjust="spacingAndGlyphs" stroke="#0000FF" stroke-width="0.60">1987A</text>
<circle cx="662.6" cy="704.7" r="5.3" fill="#FFFF00" stroke="#000" stroke-width="0.8"/>
<text x="674.9" y="710.3" font-size="16.5" text-anchor="start" fill="#000" textLength="20.6" lengthAdjust="spacingAndGlyphs" stroke="#000" stroke-width="0.60">SN</text>
<text x="706.3" y="710.3" font-size="16.5" text-anchor="start" fill="#000" textLength="57.5" lengthAdjust="spacingAndGlyphs" stroke="#000" stroke-width="0.60">2008ax</text>
</svg>
</body></html>
